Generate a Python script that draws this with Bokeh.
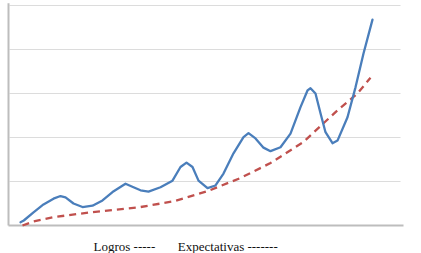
from bokeh.plotting import figure
from bokeh.models import Label, Range1d
from bokeh.embed import file_html
from bokeh.resources import INLINE

# Logros (blue solid line)
logros_x = [1.2, 1.53, 2.5, 3.5, 4.5, 5.2, 5.7, 6.5, 7.4, 8.4, 9.4, 10.4, 11.7, 12.5, 13.2,
            14.0, 15.2, 16.4, 17.2, 17.8, 18.4, 19.0, 19.9, 20.7, 21.5, 22.5, 23.5, 24.0,
            24.7, 25.5, 26.2, 27.2, 28.2, 29.2, 29.9, 30.2, 30.7, 31.2, 31.7, 32.4, 32.9,
            33.9, 34.7, 35.5, 36.4]
logros_y = [0.075, 0.114, 0.30, 0.48, 0.61, 0.67, 0.64, 0.50, 0.42, 0.45, 0.57, 0.76, 0.95,
            0.87, 0.80, 0.77, 0.87, 1.02, 1.33, 1.43, 1.33, 1.02, 0.85, 0.91, 1.18, 1.64,
            2.01, 2.10, 1.98, 1.77, 1.69, 1.78, 2.09, 2.69, 3.07, 3.12, 3.00, 2.55, 2.12,
            1.87, 1.93, 2.46, 3.14, 3.91, 4.68]

# Expectativas (red dashed line)
expect_x = [1.4, 2.5, 4.5, 8.2, 13.2, 16.5, 19.9, 23.2, 26.2, 29.5, 32.9, 34.9, 36.2]
expect_y = [0.0, 0.09, 0.19, 0.30, 0.42, 0.55, 0.78, 1.08, 1.42, 1.90, 2.62, 3.00, 3.36]

grid_ticks = [1, 2, 3, 4, 5]
legend_texts = ["Logros -----", "Expectativas -------"]

p = figure(width=421, height=253, output_backend="svg", toolbar_location=None,
           min_border=0, min_border_left=0, min_border_right=0,
           min_border_top=0, min_border_bottom=0,
           x_range=Range1d(-0.8, 41.3), y_range=Range1d(-0.636, 5.114))
p.axis.visible = False
p.xgrid.visible = False
p.ygrid.visible = False
p.outline_line_color = None
p.background_fill_color = "white"
p.border_fill_color = "white"

# gridlines
p.segment(x0=[0.1] * len(grid_ticks), y0=grid_ticks, x1=[39.2] * len(grid_ticks), y1=grid_ticks,
          line_color="#DCDCDC", line_width=1.2)
# axis lines
p.segment(x0=[0.0], y0=[0], x1=[0.0], y1=[5.05], line_color="#BDBDBD", line_width=2)
p.segment(x0=[0.0], y0=[0], x1=[39.5], y1=[0], line_color="#BDBDBD", line_width=2)

p.line(expect_x, expect_y, line_color="#C0504D", line_width=2.3, line_dash="7 5")
p.line(logros_x, logros_y, line_color="#4A7EBB", line_width=2.3, line_join="round",
       line_cap="round")

font = "Liberation Serif"
p.add_layout(Label(x=8.5, y=-0.475, text=legend_texts[0], text_font=font,
                   text_font_size="13px", text_color="#111111", text_baseline="alphabetic"))
p.add_layout(Label(x=16.93, y=-0.475, text=legend_texts[1], text_font=font,
                   text_font_size="13px", text_color="#111111", text_baseline="alphabetic"))

open("out.html", "w").write(file_html(p, INLINE))
